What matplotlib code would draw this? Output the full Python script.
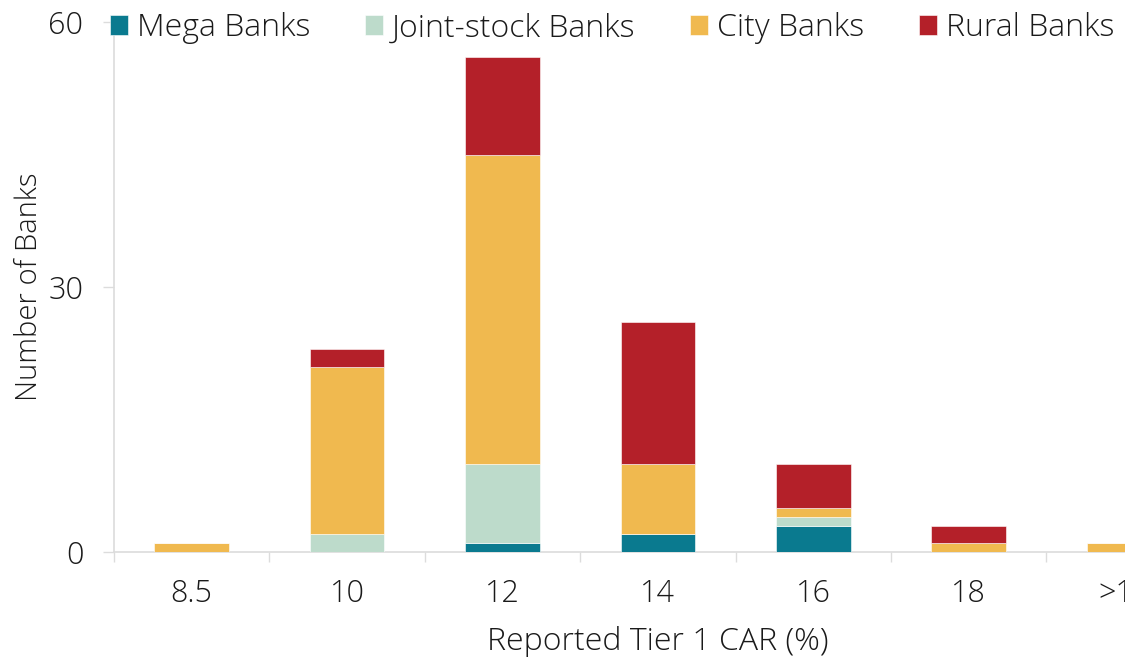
import matplotlib
matplotlib.use("Agg")
import matplotlib.pyplot as plt
import numpy as np

# Tier 1 capital adequacy buckets and bank counts per group
categories = ["8.5", "10", "12", "14", "16", "18", ">18"]
mega = [0, 0, 1, 2, 3, 0, 0]
joint_stock = [0, 2, 9, 0, 1, 0, 0]
city = [1, 19, 35, 8, 1, 1, 1]
rural = [0, 2, 11, 16, 5, 2, 0]

series = [
    ("Mega Banks", mega, "#0a7a8f"),
    ("Joint-stock Banks", joint_stock, "#bddbcb"),
    ("City Banks", city, "#f0b94f"),
    ("Rural Banks", rural, "#b42029"),
]

plt.rcParams["font.family"] = ["Open Sans", "DejaVu Sans"]
plt.rcParams["font.weight"] = 300
text_color = "#1a1a1a"
axis_color = "#dcdcdc"
fs = 22

fig = plt.figure(figsize=(11.25, 6.57), dpi=100)
ax = fig.add_axes([0.1013, 0.1598, 0.967, 0.8067])

x = np.arange(len(categories))
bottom = np.zeros(len(categories))
handles = []
for name, vals, color in series:
    vals = np.array(vals, dtype=float)
    h = ax.bar(x, vals, width=0.48, bottom=bottom, color=color,
               edgecolor="white", linewidth=0.4, label=name, zorder=3)
    handles.append(h)
    bottom += vals

ax.set_xlim(-0.5, len(categories) - 0.5)
ax.set_ylim(0, 60)
ax.set_yticks([0, 30, 60])

ax.set_xticks(x)
ax.set_xticklabels(categories)
ax.set_xticks(np.arange(-0.5, len(categories), 1.0), minor=True)
ax.tick_params(axis="x", which="major", length=0, pad=19,
               labelsize=fs, labelcolor=text_color)
ax.tick_params(axis="x", which="minor", length=7.5, width=1, color=axis_color)
ax.tick_params(axis="y", length=8, width=1, color=axis_color, pad=14,
               labelsize=fs, labelcolor=text_color)

for side in ("top", "right"):
    ax.spines[side].set_visible(False)
for side in ("left", "bottom"):
    ax.spines[side].set_color(axis_color)
    ax.spines[side].set_linewidth(1.2)

ax.set_xlabel("Reported Tier 1 CAR (%)", fontsize=23, color=text_color,
              fontweight=300, labelpad=11)
ax.set_ylabel("Number of Banks", fontsize=21, color=text_color,
              fontweight=300)
ax.yaxis.set_label_coords(-0.064, 0.5)

leg = fig.legend(handles=handles, loc="center left",
                 bbox_to_anchor=(0.0978, 0.957), ncol=4, frameon=False,
                 fontsize=23, handlelength=0.56, handleheight=0.56,
                 handletextpad=0.28, columnspacing=1.72, borderaxespad=0,
                 borderpad=0)
for t in leg.get_texts():
    t.set_color(text_color)
    t.set_fontweight(300)

fig.savefig("out.png", dpi=100)
